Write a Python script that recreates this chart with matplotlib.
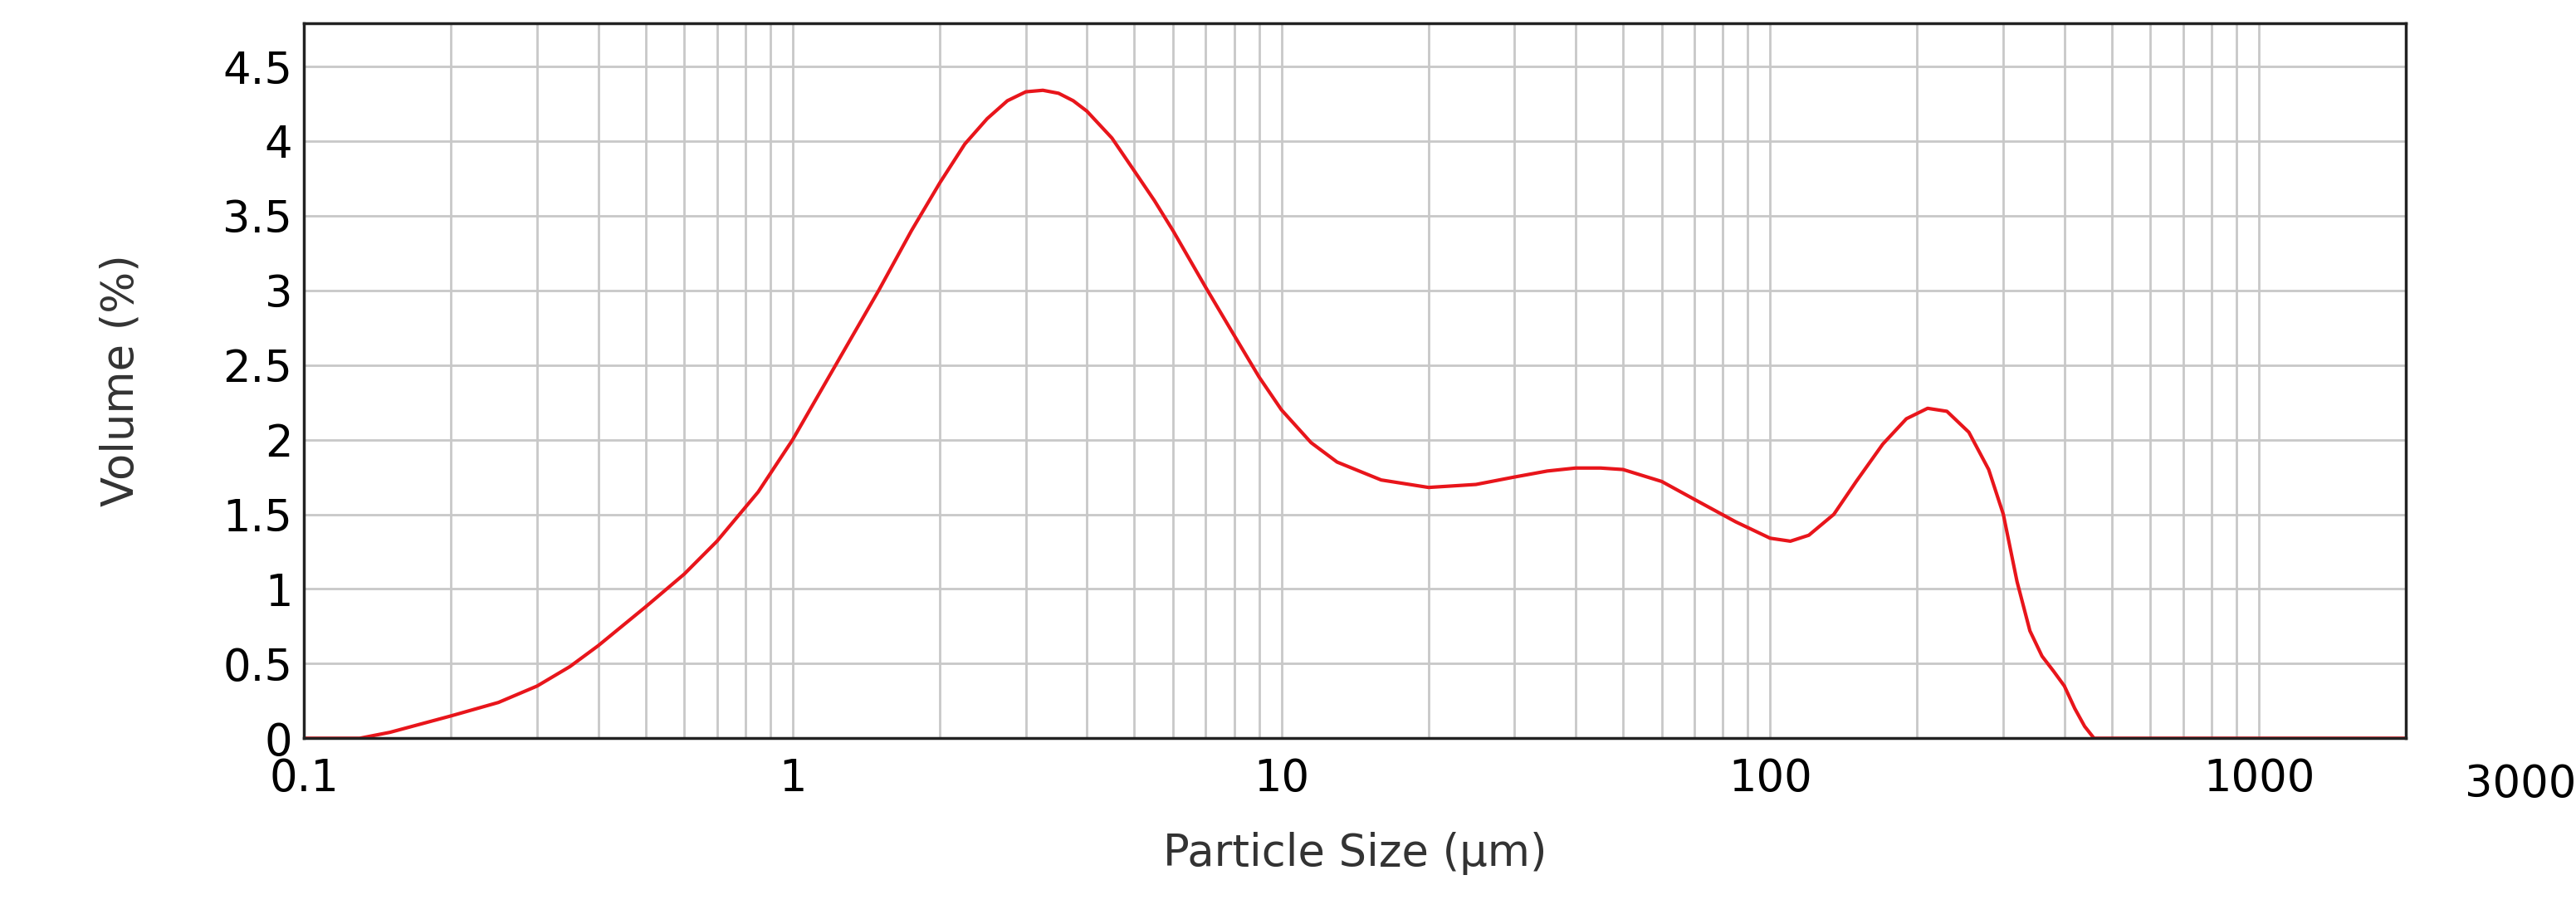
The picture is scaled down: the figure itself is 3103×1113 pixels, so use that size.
import matplotlib.pyplot as plt
from matplotlib.ticker import FixedLocator, NullFormatter, FixedFormatter

# particle size (um) and volume (%)
size = [0.1, 0.13, 0.15, 0.2, 0.25, 0.3, 0.35, 0.4, 0.5, 0.6, 0.7, 0.85, 1.0, 1.2, 1.5,
        1.75, 2.0, 2.25, 2.5, 2.75, 3.0, 3.25, 3.5, 3.75, 4.0, 4.5, 5.0, 5.5, 6.0, 7.0,
        8.0, 9.0, 10, 11.5, 13, 16, 20, 25, 30, 35, 40, 45, 50, 60, 70, 85, 100, 110,
        120, 135, 150, 170, 190, 210, 230, 255, 280, 300, 320, 340, 360, 380, 400, 420,
        440, 460, 1000, 2000]
volume = [0.0, 0.0, 0.04, 0.15, 0.24, 0.35, 0.48, 0.62, 0.88, 1.1, 1.32, 1.65, 2.0,
          2.45, 3.0, 3.4, 3.72, 3.98, 4.15, 4.27, 4.33, 4.34, 4.32, 4.27, 4.2, 4.02,
          3.8, 3.6, 3.4, 3.02, 2.7, 2.42, 2.2, 1.98, 1.85, 1.73, 1.68, 1.7, 1.75,
          1.79, 1.81, 1.81, 1.8, 1.72, 1.6, 1.45, 1.34, 1.32, 1.36, 1.5, 1.72, 1.97,
          2.14, 2.21, 2.19, 2.05, 1.8, 1.5, 1.05, 0.72, 0.55, 0.45, 0.35, 0.2, 0.08,
          0.0, 0.0, 0.0]

x_ticks = [0.1, 1, 10, 100, 1000]
x_labels = ["0.1", "1", "10", "100", "1000"]
y_ticks = [0, 0.5, 1, 1.5, 2, 2.5, 3, 3.5, 4, 4.5]
y_labels = ["0", "0.5", "1", "1.5", "2", "2.5", "3", "3.5", "4", "4.5"]

fig = plt.figure(figsize=(31.03, 11.13), dpi=100)
ax = fig.add_axes([0.118, 0.201, 0.816, 0.774])

ax.plot(size, volume, color="#e8151b", lw=3)
ax.set_xscale("log")
ax.set_xlim(0.1, 2000)
ax.set_ylim(0, 4.79)

ax.xaxis.set_major_locator(FixedLocator(x_ticks))
ax.xaxis.set_major_formatter(FixedFormatter(x_labels))
minor = [m * 10.0 ** e for e in range(-1, 4) for m in range(2, 10) if m * 10.0 ** e < 2000]
ax.xaxis.set_minor_locator(FixedLocator(minor))
ax.xaxis.set_minor_formatter(NullFormatter())
ax.set_yticks(y_ticks)
ax.set_yticklabels(y_labels)

ax.grid(True, which="both", axis="x", color="#c8c8c8", lw=2)
ax.grid(True, which="major", axis="y", color="#c8c8c8", lw=2)
ax.tick_params(which="both", length=0, labelsize=38)
ax.tick_params(axis="x", pad=16)
ax.tick_params(axis="y", pad=10)
for s in ax.spines.values():
    s.set_linewidth(2.5)
    s.set_color("#222222")

ax.text(1.028, -0.035, "3000", transform=ax.transAxes, ha="left", va="top", fontsize=38)
ax.set_xlabel("Particle Size (μm)", fontsize=38, labelpad=28, color="#333333")
ax.set_ylabel("Volume (%)", fontsize=38, labelpad=70, color="#333333")

fig.savefig("out.png", dpi=100)
